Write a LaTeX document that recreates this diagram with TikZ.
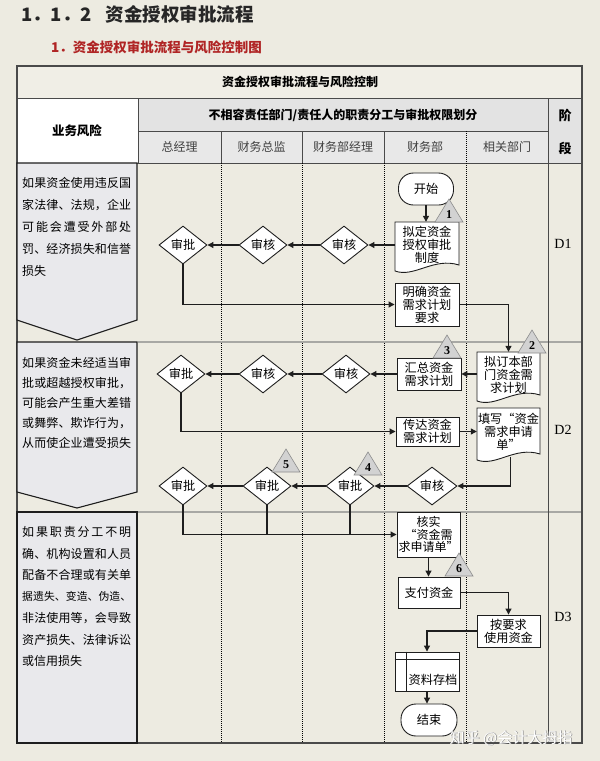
\documentclass[tikz,border=0pt]{standalone}
\usepackage{fontspec}
\setmainfont{Noto Sans CJK SC}
\newfontfamily\numfont{Liberation Serif}
\usetikzlibrary{shapes.geometric,arrows.meta}
\definecolor{bg}{HTML}{EDEBE1}
\definecolor{hdrgray}{HTML}{E3E3E3}
\definecolor{subgray}{HTML}{E8E8E8}
\definecolor{riskfill}{HTML}{E9E9EC}
\definecolor{trifill}{HTML}{D2D2D2}
\definecolor{triedge}{HTML}{8C8C8C}
\definecolor{redtitle}{HTML}{B02525}
\definecolor{ink}{HTML}{1E1E1E}
\definecolor{gridc}{HTML}{4A4A4A}
\definecolor{sepc}{HTML}{A8A8A4}

\makeatletter
\def\sprd#1{\makebox[109pt][s]{\sprd@i#1\sprd@end}}
\def\sprd@i#1#2\sprd@end{#1\ifx\relax#2\relax\else\hfill\sprd@i#2\sprd@end\fi}
\makeatother
\newcommand\fsz[1]{\fontsize{#1}{#1}\selectfont}

\tikzset{
  cell/.style={draw=gridc, line width=1pt},
  riskbox/.style={draw=ink, fill=riskfill, line width=1.1pt},
  shapeline/.style={draw=ink, fill=white, line width=0.9pt},
  flowbox/.style={shapeline, inner sep=0pt, align=center, font=\fontsize{12.2}{13}\selectfont},
  term/.style={flowbox, rounded corners=15pt},
  dia/.style={diamond, shapeline, inner sep=0pt, minimum width=48pt, minimum height=38pt, font=\fsz{12.2}},
  doctext/.style={inner sep=0pt, align=center, font=\fontsize{12.2}{13}\selectfont},
  conn/.style={draw=ink, line width=1.1pt},
  arr/.style={conn, -{Triangle[length=6pt,width=6pt]}},
  tri/.style={fill=trifill, draw=triedge, line width=0.6pt},
  trinum/.style={font=\numfont\bfseries\fsz{12}, inner sep=0pt},
  lanetxt/.style={font=\fsz{12}, text=black!75, inner sep=0pt},
  hdrtxt/.style={font=\bfseries\fsz{12}, inner sep=0pt},
  risktxt/.style={anchor=west, inner sep=0pt, font=\fsz{12}},
  dlabel/.style={font=\numfont\fsz{14}, inner sep=0pt},
  lanediv/.style={draw=black, line width=0.9pt, dash pattern=on 1pt off 1pt},
  rowsep/.style={draw=sepc, line width=1.2pt},
}

% document shape: name, cx, cy, w, h, text
\newcommand\docnode[6]{%
  \filldraw[shapeline] ({#2-#4/2},{#3-#5/2}) -- ({#2+#4/2},{#3-#5/2}) -- ({#2+#4/2},{#3+#5/2-8})
    .. controls ({#2+0.1*#4},{#3+#5/2-16}) and ({#2-0.2*#4},{#3+#5/2+5}) .. ({#2-#4/2},{#3+#5/2-2}) -- cycle;
  \node[inner sep=0pt, minimum width=#4pt, minimum height=#5pt] (#1) at (#2,#3) {};
  \node[doctext] (#1t) at (#2,{#3-3}) {#6};
}
% numbered triangle: name, apex x, base y, number
\newcommand\marker[4]{%
  \filldraw[tri] (#2,{#3-23}) -- ({#2-14},#3) -- ({#2+14},#3) -- cycle;
  \node[trinum] (#1) at (#2,{#3-7}) {#4};
}

\begin{document}
\begin{tikzpicture}[x=1pt,y=-1pt]
\fill[bg] (0,0) rectangle (600,761);
\useasboundingbox (0,0) rectangle (600,761);

% titles
\node[anchor=west, inner sep=0pt, font=\bfseries\fsz{18.5}, text=black!85] (ttl) at (21,14) {1．1．2\hspace{14pt}资金授权审批流程};
\node[anchor=west, inner sep=0pt, font=\bfseries\fsz{13.5}, text=redtitle] (sub) at (51,47) {1．资金授权审批流程与风险控制图};

% header cells
\filldraw[cell, fill=bg!85!white] (17,66) rectangle (582,98);
\filldraw[cell, fill=white] (17,98) rectangle (138,163);
\filldraw[cell, fill=hdrgray] (138,98) rectangle (548,131);
\filldraw[cell, fill=hdrgray] (548,98) rectangle (582,163);
\filldraw[cell, fill=subgray] (138,131) rectangle (548,163);
\draw[cell] (221,131) -- (221,163);
\draw[cell] (302,131) -- (302,163);
\draw[cell] (384,131) -- (384,163);
\draw[lanediv] (466,131) -- (466,163);

% body grid
\draw[lanediv] (221,163) -- (221,743);
\draw[lanediv] (302,163) -- (302,743);
\draw[lanediv] (384,163) -- (384,743);
\draw[lanediv] (466,163) -- (466,743);
\draw[rowsep] (138,342) -- (582,342);
\draw[rowsep] (138,512) -- (582,512);
\draw[cell] (548,163) -- (548,743);
\draw[cell, line width=1.4pt] (17,66) rectangle (582,743);

% risk boxes
\filldraw[riskbox] (17,163) -- (137,163) -- (137,320) -- (77,340) -- (17,320) -- cycle;
\filldraw[riskbox] (17,342) -- (137,342) -- (137,492) -- (77,508) -- (17,492) -- cycle;
\filldraw[riskbox, line width=1.5pt] (17,512) rectangle (137,743);

% header texts
\node[hdrtxt] (tt) at (300,82) {资金授权审批流程与风险控制};
\node[hdrtxt, font=\bfseries\fsz{12.5}] (ywfx) at (77,131) {业务风险};
\node[hdrtxt] (bxr) at (343,115) {不相容责任部门/责任人的职责分工与审批权限划分};
\node[hdrtxt, font=\bfseries\fsz{13}] (jie) at (565,116) {阶};
\node[hdrtxt, font=\bfseries\fsz{13}] (duan) at (565,148) {段};
\node[lanetxt] (l1) at (179.5,147) {总经理};
\node[lanetxt] (l2) at (261.5,147) {财务总监};
\node[lanetxt] (l3) at (343,147) {财务部经理};
\node[lanetxt] (l4) at (425,147) {财务部};
\node[lanetxt] (l5) at (507,147) {相关部门};

% risk texts
\node[risktxt] (r1a) at (22,183) {\sprd{如果资金使用违反国}};
\node[risktxt] (r1b) at (22,205) {\sprd{家法律、法规，企业}};
\node[risktxt] (r1c) at (22,227) {\sprd{可能会遭受外部处}};
\node[risktxt] (r1d) at (22,249) {\sprd{罚、经济损失和信誉}};
\node[risktxt] (r1e) at (22,271) {损失};

\node[risktxt] (r2a) at (22,363) {\sprd{如果资金未经适当审}};
\node[risktxt] (r2b) at (22,383) {\sprd{批或超越授权审批，}};
\node[risktxt] (r2c) at (22,403) {\sprd{可能会产生重大差错}};
\node[risktxt] (r2d) at (22,423) {\sprd{或舞弊、欺诈行为，}};
\node[risktxt] (r2e) at (22,443) {\sprd{从而使企业遭受损失}};

\node[risktxt] (r3a) at (22,532) {\sprd{如果职责分工不明}};
\node[risktxt] (r3b) at (22,553.5) {\sprd{确、机构设置和人员}};
\node[risktxt] (r3c) at (22,575) {\sprd{配备不合理或有关单}};
\node[risktxt, font=\fsz{10.8}] (r3d) at (22,596.5) {\sprd{据遗失、变造、伪造、}};
\node[risktxt] (r3e) at (22,618) {\sprd{非法使用等，会导致}};
\node[risktxt] (r3f) at (22,639.5) {\sprd{资产损失、法律诉讼}};
\node[risktxt] (r3g) at (22,661) {或信用损失};

% stage labels
\node[dlabel] (d1) at (563,244) {D1};
\node[dlabel] (d2) at (563,430) {D2};
\node[dlabel] (d3) at (563,617) {D3};

% flow nodes D1
\node[term, minimum width=55pt, minimum height=32pt] (start) at (426,189) {开始};
\docnode{doc1}{427}{247.5}{64}{51}{拟定资金\\授权审批\\制度}
\node[flowbox, minimum width=64pt, minimum height=43pt] (plan) at (427,304.5) {明确资金\\需求计划\\要求};
\node[dia] (a1) at (183,245) {审批};
\node[dia] (b1) at (263,245) {审核};
\node[dia] (c1) at (344,245) {审核};

% D2
\docnode{doc2}{508.5}{377.5}{63}{51}{拟订本部\\门资金需\\求计划}
\node[flowbox, minimum width=64pt, minimum height=32pt] (sum) at (429,374) {汇总资金\\需求计划};
\node[dia] (a2) at (181,374) {审批};
\node[dia] (b2) at (263,374) {审核};
\node[dia] (c2) at (346,374) {审核};
\node[flowbox, minimum width=63pt, minimum height=29pt] (pass) at (427.5,431.5) {传达资金\\需求计划};
\docnode{doc3}{508.5}{435}{63}{54}{填写“资金\\需求申请\\单”}
\node[dia, minimum width=50pt] (d) at (432,486) {审核};
\node[dia] (c3) at (350,486) {审批};
\node[dia] (b3) at (267,486) {审批};
\node[dia] (a3) at (183,486) {审批};

% D3
\node[flowbox, minimum width=63pt, minimum height=45pt, font=\fontsize{12}{12.5}\selectfont] (chk) at (428.5,534.5) {核实\\“资金需\\求申请单”};
\node[flowbox, minimum width=62pt, minimum height=31pt] (pay) at (429,592.5) {支付资金};
\node[flowbox, minimum width=63pt, minimum height=32pt] (use) at (508.5,631) {按要求\\使用资金};
\node[flowbox, minimum width=64pt, minimum height=39pt] (store) at (427,671.5) {};
\draw[draw=ink, line width=0.9pt] ([xshift=12pt]store.north west) -- ([xshift=12pt]store.south west);
\draw[draw=ink, line width=0.9pt] ([yshift=-8pt]store.north west) -- ([yshift=-8pt]store.north east);
\node[doctext] (storet) at (433,680) {资料存档};
\node[term, minimum width=56pt, minimum height=32pt] (end) at (429,720) {结束};

% connectors
\draw[arr] (start.south) -- (start.south|-doc1.north);
\draw[arr] (doc1.west|-c1.east) -- (c1.east);
\draw[arr] (c1.west) -- (b1.east);
\draw[arr] (b1.west) -- (a1.east);
\draw[arr] (a1.south) |- (plan.west);
\draw[arr] (plan.east) -| (doc2.north);
\draw[arr] (doc2.west|-sum.east) -- (sum.east);
\draw[arr] (sum.west) -- (c2.east);
\draw[arr] (c2.west) -- (b2.east);
\draw[arr] (b2.west) -- (a2.east);
\draw[arr] (a2.south) |- (pass.west);
\draw[arr] (pass.east) -- (pass.east-|doc3.west);
\draw[arr] ([xshift=2pt,yshift=5pt]doc3.south) |- (d.east);
\draw[arr] (d.west) -- (c3.east);
\draw[arr] (c3.west) -- (b3.east);
\draw[arr] (b3.west) -- (a3.east);
\draw[arr] (a3.south) |- (chk.west);
\draw[conn] (b3.south) -- (b3.south|-chk.west);
\draw[conn] (c3.south) -- (c3.south|-chk.west);
\draw[arr] (chk.south) -- (chk.south|-pay.north);
\draw[arr] (pay.east) -| (use.north);
\draw[arr] (use.west) -| (store.north);
\draw[arr] (store.south) -- (store.south|-end.north);

% markers
\marker{n1}{449}{222}{1}
\marker{n2}{532}{353}{2}
\marker{n3}{447}{358}{3}
\marker{n4}{368}{475}{4}
\marker{n5}{286}{472}{5}
\marker{n6}{459}{576}{6}

% watermark
\node[font=\fsz{15}, text=black!45, inner sep=0pt] (wmsh) at (511.8,738.8) {知乎 @会计大拇指};
\node[font=\fsz{15}, text=white, inner sep=0pt] (wm) at (511,738) {知乎 @会计大拇指};
\end{tikzpicture}
\end{document}
